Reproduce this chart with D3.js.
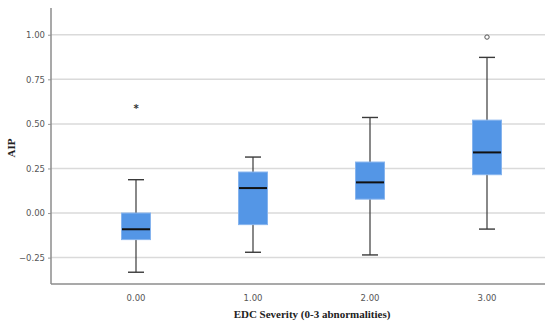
<!DOCTYPE html>
<html>
<head>
<meta charset="utf-8">
<script src="https://cdn.jsdelivr.net/npm/d3@7"></script>
<style>
body { margin: 0; background: #fff; }
</style>
</head>
<body>
<div id="chart"></div>
<script>
var width = 550,
    height = 327;

// data
var categories = ["0.00", "1.00", "2.00", "3.00"];
var whiskerLow = [-0.332, -0.220, -0.235, -0.090];
var q1 = [-0.149, -0.065, 0.078, 0.215];
var median = [-0.091, 0.140, 0.172, 0.340];
var q3 = [0.000, 0.230, 0.286, 0.521];
var whiskerHigh = [0.187, 0.314, 0.536, 0.873];
var extremes = [{cat: "0.00", value: 0.59}];      // asterisk
var outliers = [{cat: "3.00", value: 0.987}];     // circle
var yTicks = [-0.25, 0, 0.25, 0.5, 0.75, 1.0];

var plotLeft = 51, plotRight = 545, plotTop = 8, plotBottom = 284;

var svg = d3.select("#chart").append("svg")
    .attr("width", width)
    .attr("height", height);

var y = d3.scaleLinear().domain([-0.398, 1.15]).range([plotBottom, plotTop]);
var x = d3.scalePoint().domain(categories).range([136, 487]);
var boxW = 29;

// grid
svg.append("g").selectAll("line").data(yTicks).enter().append("line")
    .attr("x1", plotLeft).attr("x2", plotRight)
    .attr("y1", function(d) { return y(d); })
    .attr("y2", function(d) { return y(d); })
    .attr("stroke", "#dadada")
    .attr("stroke-width", 1.5);

// y axis
var yAxis = d3.axisLeft(y).tickValues(yTicks).tickSize(3).tickPadding(3)
    .tickFormat(d3.format(".2f"));
var gy = svg.append("g").attr("transform", "translate(" + plotLeft + ",0)").call(yAxis);
gy.select(".domain").remove();
gy.selectAll(".tick line").attr("stroke", "#999");
gy.selectAll("text").style("font-family", "DejaVu Sans").style("font-size", "8.5px").attr("fill", "#555");

svg.append("line").attr("x1", plotLeft).attr("x2", plotLeft).attr("y1", plotTop).attr("y2", plotBottom)
    .attr("stroke", "#8c8c8c").attr("stroke-width", 1.5);
svg.append("line").attr("x1", plotLeft).attr("x2", plotRight).attr("y1", plotBottom).attr("y2", plotBottom)
    .attr("stroke", "#8c8c8c").attr("stroke-width", 1.5);

// x labels
svg.append("g").selectAll("text").data(categories).enter().append("text")
    .attr("x", function(d) { return x(d); })
    .attr("y", plotBottom + 17)
    .attr("text-anchor", "middle")
    .style("font-family", "DejaVu Sans")
    .style("font-size", "8.5px")
    .attr("fill", "#555")
    .text(function(d) { return d; });

// boxes
var boxes = svg.append("g").selectAll("g").data(categories).enter().append("g");

boxes.append("line")
    .attr("x1", function(d) { return x(d); })
    .attr("x2", function(d) { return x(d); })
    .attr("y1", function(d, i) { return y(whiskerHigh[i]); })
    .attr("y2", function(d, i) { return y(whiskerLow[i]); })
    .attr("stroke", "#3a3a3a").attr("stroke-width", 1.2);

[whiskerHigh, whiskerLow].forEach(function(arr) {
    boxes.append("line")
        .attr("x1", function(d) { return x(d) - 8; })
        .attr("x2", function(d) { return x(d) + 8; })
        .attr("y1", function(d, i) { return y(arr[i]); })
        .attr("y2", function(d, i) { return y(arr[i]); })
        .attr("stroke", "#3a3a3a").attr("stroke-width", 1.4);
});

boxes.append("rect")
    .attr("x", function(d) { return x(d) - boxW / 2; })
    .attr("width", boxW)
    .attr("y", function(d, i) { return y(q3[i]); })
    .attr("height", function(d, i) { return y(q1[i]) - y(q3[i]); })
    .attr("fill", "#5496e6")
    .attr("stroke", "#86b4ee")
    .attr("stroke-width", 1);

boxes.append("line")
    .attr("x1", function(d) { return x(d) - boxW / 2 + 0.5; })
    .attr("x2", function(d) { return x(d) + boxW / 2 - 0.5; })
    .attr("y1", function(d, i) { return y(median[i]); })
    .attr("y2", function(d, i) { return y(median[i]); })
    .attr("stroke", "#111").attr("stroke-width", 2);

// outliers
svg.append("g").selectAll("circle").data(outliers).enter().append("circle")
    .attr("cx", function(d) { return x(d.cat); })
    .attr("cy", function(d) { return y(d.value); })
    .attr("r", 2.2)
    .attr("fill", "none")
    .attr("stroke", "#555")
    .attr("stroke-width", 1);

svg.append("g").selectAll("text").data(extremes).enter().append("text")
    .attr("x", function(d) { return x(d.cat); })
    .attr("y", function(d) { return y(d.value) + 4.5; })
    .attr("text-anchor", "middle")
    .style("font-family", "DejaVu Sans")
    .style("font-size", "10px")
    .style("font-weight", "bold")
    .attr("fill", "#333")
    .text("*");

// axis titles
svg.append("text")
    .attr("x", 312).attr("y", 318)
    .attr("text-anchor", "middle")
    .style("font-family", "Liberation Serif")
    .style("font-size", "11px")
    .style("font-weight", "bold")
    .attr("fill", "#222")
    .text("EDC Severity (0-3 abnormalities)");

svg.append("text")
    .attr("transform", "translate(15,148) rotate(-90)")
    .attr("text-anchor", "middle")
    .style("font-family", "Liberation Serif")
    .style("font-size", "11px")
    .style("font-weight", "bold")
    .attr("fill", "#222")
    .text("AIP");
</script>
</body>
</html>
